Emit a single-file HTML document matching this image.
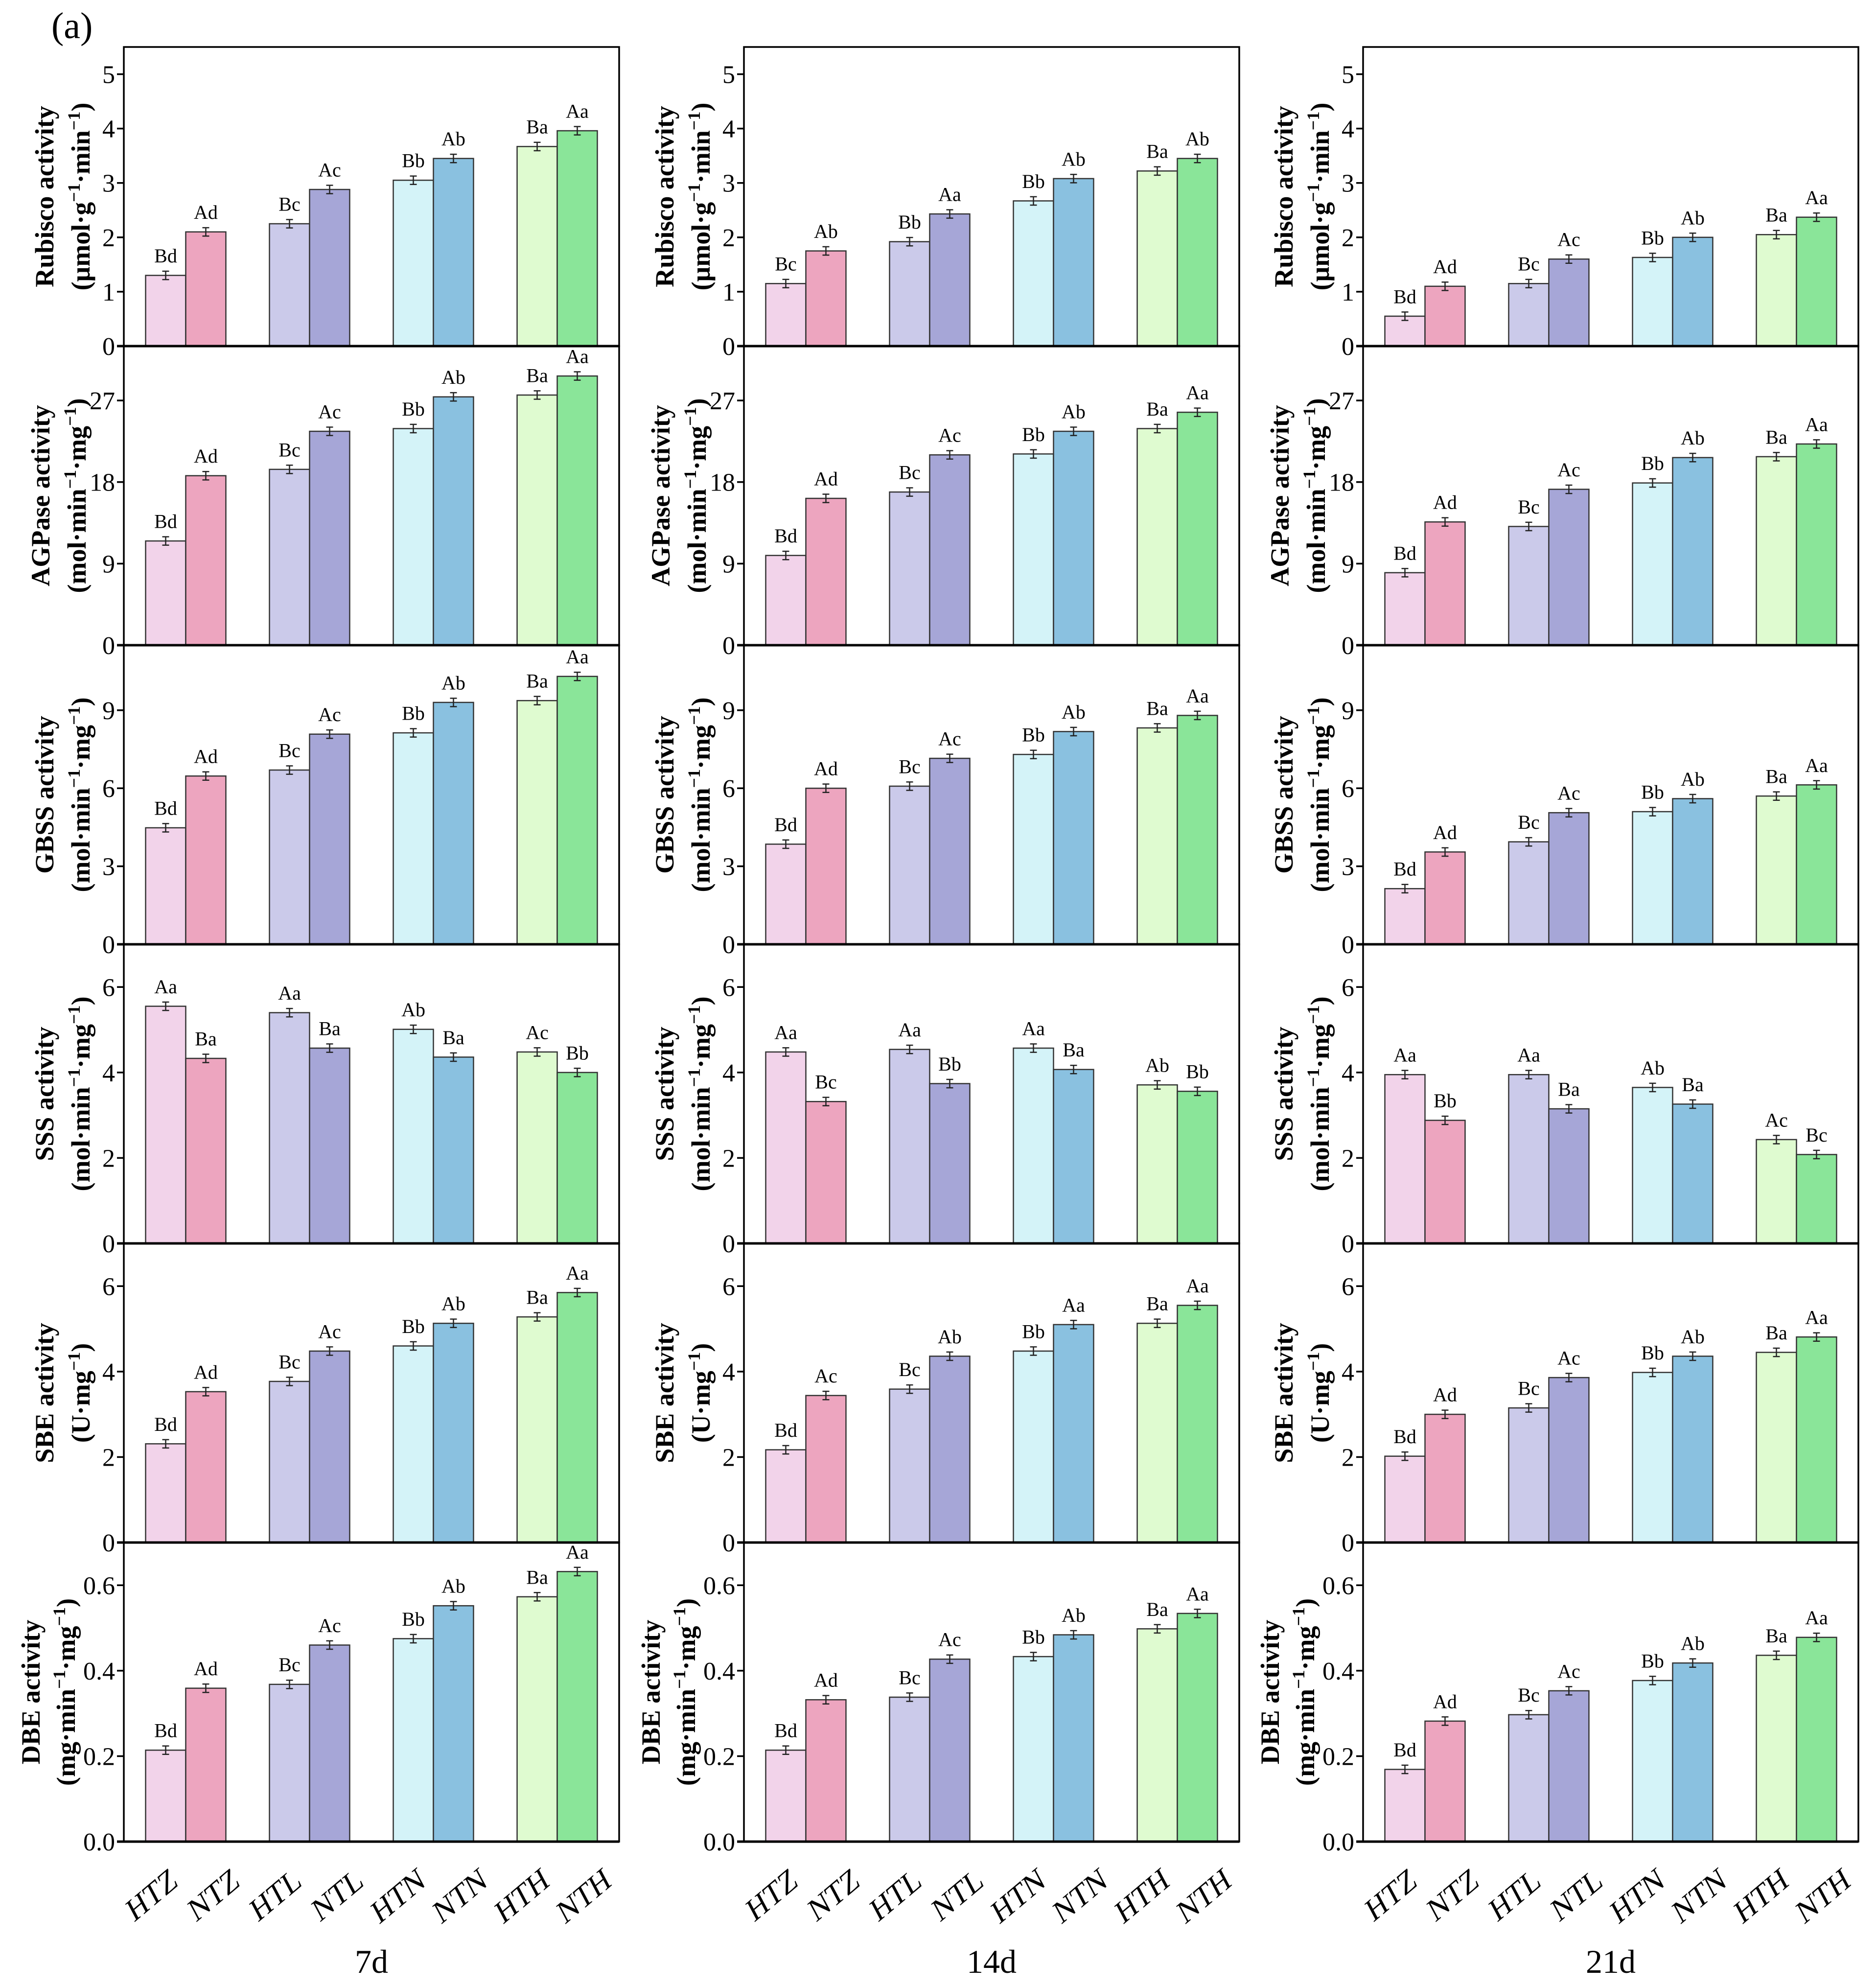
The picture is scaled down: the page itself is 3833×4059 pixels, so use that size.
<!DOCTYPE html>
<html><head><meta charset="utf-8"><style>
html,body{margin:0;padding:0;background:#fff}
svg{display:block}
svg text{font-family:"Liberation Serif","DejaVu Serif",serif}
</style></head><body>
<svg id="fig" width="3833" height="4059" viewBox="0 0 3833 4059" xmlns="http://www.w3.org/2000/svg" font-family="Liberation Serif, serif">
<text x="105" y="78" font-size="76" font-family="Liberation Serif, serif">(a)</text>
</svg>
<script>
const categories=["HTZ","NTZ","HTL","NTL","HTN","NTN","HTH","NTH"];
const days=["7d","14d","21d"];
const colors=["#f2d3ea","#eda5bf","#cbcaea","#a6a6d7","#d4f3f8","#8ac1e0","#dffbd0","#8ae599"];
const rubiscoVals=[[1.3,2.1,2.25,2.88,3.05,3.45,3.67,3.96],[1.15,1.75,1.92,2.43,2.67,3.08,3.22,3.45],[0.55,1.1,1.15,1.6,1.63,2.0,2.05,2.37]];
const agpaseVals=[[11.5,18.7,19.4,23.6,23.9,27.4,27.6,29.7],[9.9,16.2,16.9,21.0,21.1,23.6,23.9,25.7],[8.0,13.6,13.1,17.2,17.9,20.7,20.8,22.2]];
const gbssVals=[[4.48,6.47,6.7,8.08,8.13,9.3,9.37,10.3],[3.85,6.0,6.08,7.15,7.3,8.18,8.32,8.8],[2.14,3.55,3.94,5.06,5.1,5.6,5.7,6.13]];
const sssVals=[[5.55,4.33,5.4,4.57,5.01,4.36,4.48,4.0],[4.48,3.32,4.54,3.74,4.57,4.07,3.71,3.56],[3.95,2.88,3.95,3.15,3.65,3.26,2.43,2.08]];
const sbeVals=[[2.31,3.53,3.77,4.48,4.6,5.13,5.28,5.85],[2.17,3.44,3.59,4.36,4.48,5.1,5.13,5.55],[2.02,3.0,3.15,3.86,3.98,4.36,4.45,4.81]];
const dbeVals=[[0.214,0.359,0.368,0.46,0.475,0.552,0.573,0.632],[0.214,0.332,0.338,0.427,0.433,0.484,0.498,0.534],[0.169,0.282,0.297,0.353,0.377,0.418,0.436,0.478]];
const std=["Bd","Ad","Bc","Ac","Bb","Ab","Ba","Aa"];
const rubiscoLabels=[std,["Bc","Ab","Bb","Aa","Bb","Ab","Ba","Ab"],std];
const agpaseLabels=[std,std,std];
const gbssLabels=[std,std,std];
const sssLabels=[["Aa","Ba","Aa","Ba","Ab","Ba","Ac","Bb"],["Aa","Bc","Aa","Bb","Aa","Ba","Ab","Bb"],["Aa","Bb","Aa","Ba","Ab","Ba","Ac","Bc"]];
const sbeLabels=[std,["Bd","Ac","Bc","Ab","Bb","Aa","Ba","Aa"],std];
const dbeLabels=[std,std,std];
const rubiscoTicks=[0,1,2,3,4,5], agpaseTicks=[0,9,18,27], gbssTicks=[0,3,6,9], sssTicks=[0,2,4,6], sbeTicks=[0,2,4,6], dbeTicks=["0.0","0.2","0.4","0.6"];
const rows=[
 {key:"rubisco",vals:rubiscoVals,labs:rubiscoLabels,ticks:rubiscoTicks,max:5.5,o1:162,o2:88,t1:"Rubisco activity",t2:[["(μmol·g",""],["−1","s"],["·min",""],["−1","s"],[")",""]]},
 {key:"agpase",vals:agpaseVals,labs:agpaseLabels,ticks:agpaseTicks,max:33,o1:170,o2:96,t1:"AGPase activity",t2:[["(mol·min",""],["−1","s"],["·mg",""],["−1","s"],[")",""]]},
 {key:"gbss",vals:gbssVals,labs:gbssLabels,ticks:gbssTicks,max:11.5,o1:162,o2:88,t1:"GBSS activity",t2:[["(mol·min",""],["−1","s"],["·mg",""],["−1","s"],[")",""]]},
 {key:"sss",vals:sssVals,labs:sssLabels,ticks:sssTicks,max:7,o1:162,o2:88,t1:"SSS activity",t2:[["(mol·min",""],["−1","s"],["·mg",""],["−1","s"],[")",""]]},
 {key:"sbe",vals:sbeVals,labs:sbeLabels,ticks:sbeTicks,max:7,o1:162,o2:88,t1:"SBE activity",t2:[["(U·mg",""],["−1","s"],[")",""]]},
 {key:"dbe",vals:dbeVals,labs:dbeLabels,ticks:dbeTicks,max:0.7,o1:190,o2:118,t1:"DBE activity",t2:[["(mg·min",""],["−1","s"],["·mg",""],["−1","s"],[")",""]]}
];
const NS="http://www.w3.org/2000/svg";
const svg=document.getElementById("fig");
const FF="Liberation Serif, serif";
function mk(tag,attrs,parent){const e=document.createElementNS(NS,tag);for(const k in attrs)e.setAttribute(k,attrs[k]);if(tag==="text")e.setAttribute("font-family",FF);(parent||svg).appendChild(e);return e;}
const colL=[253,1520,2785], W=1012, top0=96, H=611;
for(let c=0;c<3;c++){
 const L=colL[c];
 rows.forEach((r,ri)=>{
  const T=top0+ri*H, B=T+H;
  const g=mk("g",{});
  
  
  const ys=v=>B-(v/r.max)*H;
  const gw=W/4, bw=gw*0.324;
  r.vals[c].forEach((v,i)=>{
   const grp=Math.floor(i/2), x0=L+(grp+0.5)*gw+(i%2===0?-bw:0);
   const rect=mk("rect",{x:x0,y:ys(v),width:bw,height:B-ys(v),fill:colors[i],stroke:"#333","stroke-width":2.5},g);
   
   
   const cx=x0+bw/2, e=r.max*0.014, y1=ys(v+e), y2=ys(v-e);
   mk("path",{d:`M${cx},${y1}V${y2}M${cx-7},${y1}H${cx+7}M${cx-7},${y2}H${cx+7}`,stroke:"#222","stroke-width":2.5,fill:"none"},g);
   const t=mk("text",{x:cx,y:y1-18,"font-size":40,"text-anchor":"middle"},g);
   t.textContent=r.labs[c][i];
   
   
  });
  const fr=mk("rect",{x:L,y:T,width:W,height:H,fill:"none",stroke:"#000","stroke-width":3.5},g);
  
  
  mk("line",{x1:L-14,x2:L+W,y1:B,y2:B,stroke:"#000","stroke-width":5},g);
  r.ticks.forEach(tv=>{
   const y=ys(parseFloat(tv));
   mk("line",{x1:L-14,x2:L,y1:y,y2:y,stroke:"#000","stroke-width":3.5},g);
   const t=mk("text",{x:L-18,y:y+18,"font-size":52,"text-anchor":"end"},g);
   t.textContent=tv;
   
   
  });
  const cy=T+H/2;
  const t1=mk("text",{x:0,y:0,"font-size":54,"font-weight":"bold","text-anchor":"middle",transform:`translate(${L-r.o1+18},${cy}) rotate(-90)`},g);
  t1.textContent=r.t1;
  
  
  const t2=mk("text",{x:0,y:0,"font-size":54,"font-weight":"bold","text-anchor":"middle",transform:`translate(${L-r.o2+18},${cy}) rotate(-90)`},g);
  
  
  r.t2.forEach(p=>{const s=mk("tspan",{},t2);s.textContent=p[0];if(p[1]==="s"){s.setAttribute("font-size","36");s.setAttribute("dy","-20");}else if(s.previousSibling&&s.previousSibling.getAttribute("dy")==="-20"){s.setAttribute("dy","20");}});
 });
 categories.forEach((cat,i)=>{
  const cx=L+(i+0.5)*W/8;
  const t=mk("text",{x:0,y:0,"font-size":62,"text-anchor":"end",transform:`translate(${cx+50},${3850}) rotate(-40) skewX(-12)`});
  t.textContent=cat;
  
  
 });
 const d=mk("text",{x:L+W/2,y:4030,"font-size":68,"text-anchor":"middle"});
 d.textContent=days[c];
 
 
}
</script>
</body></html>
